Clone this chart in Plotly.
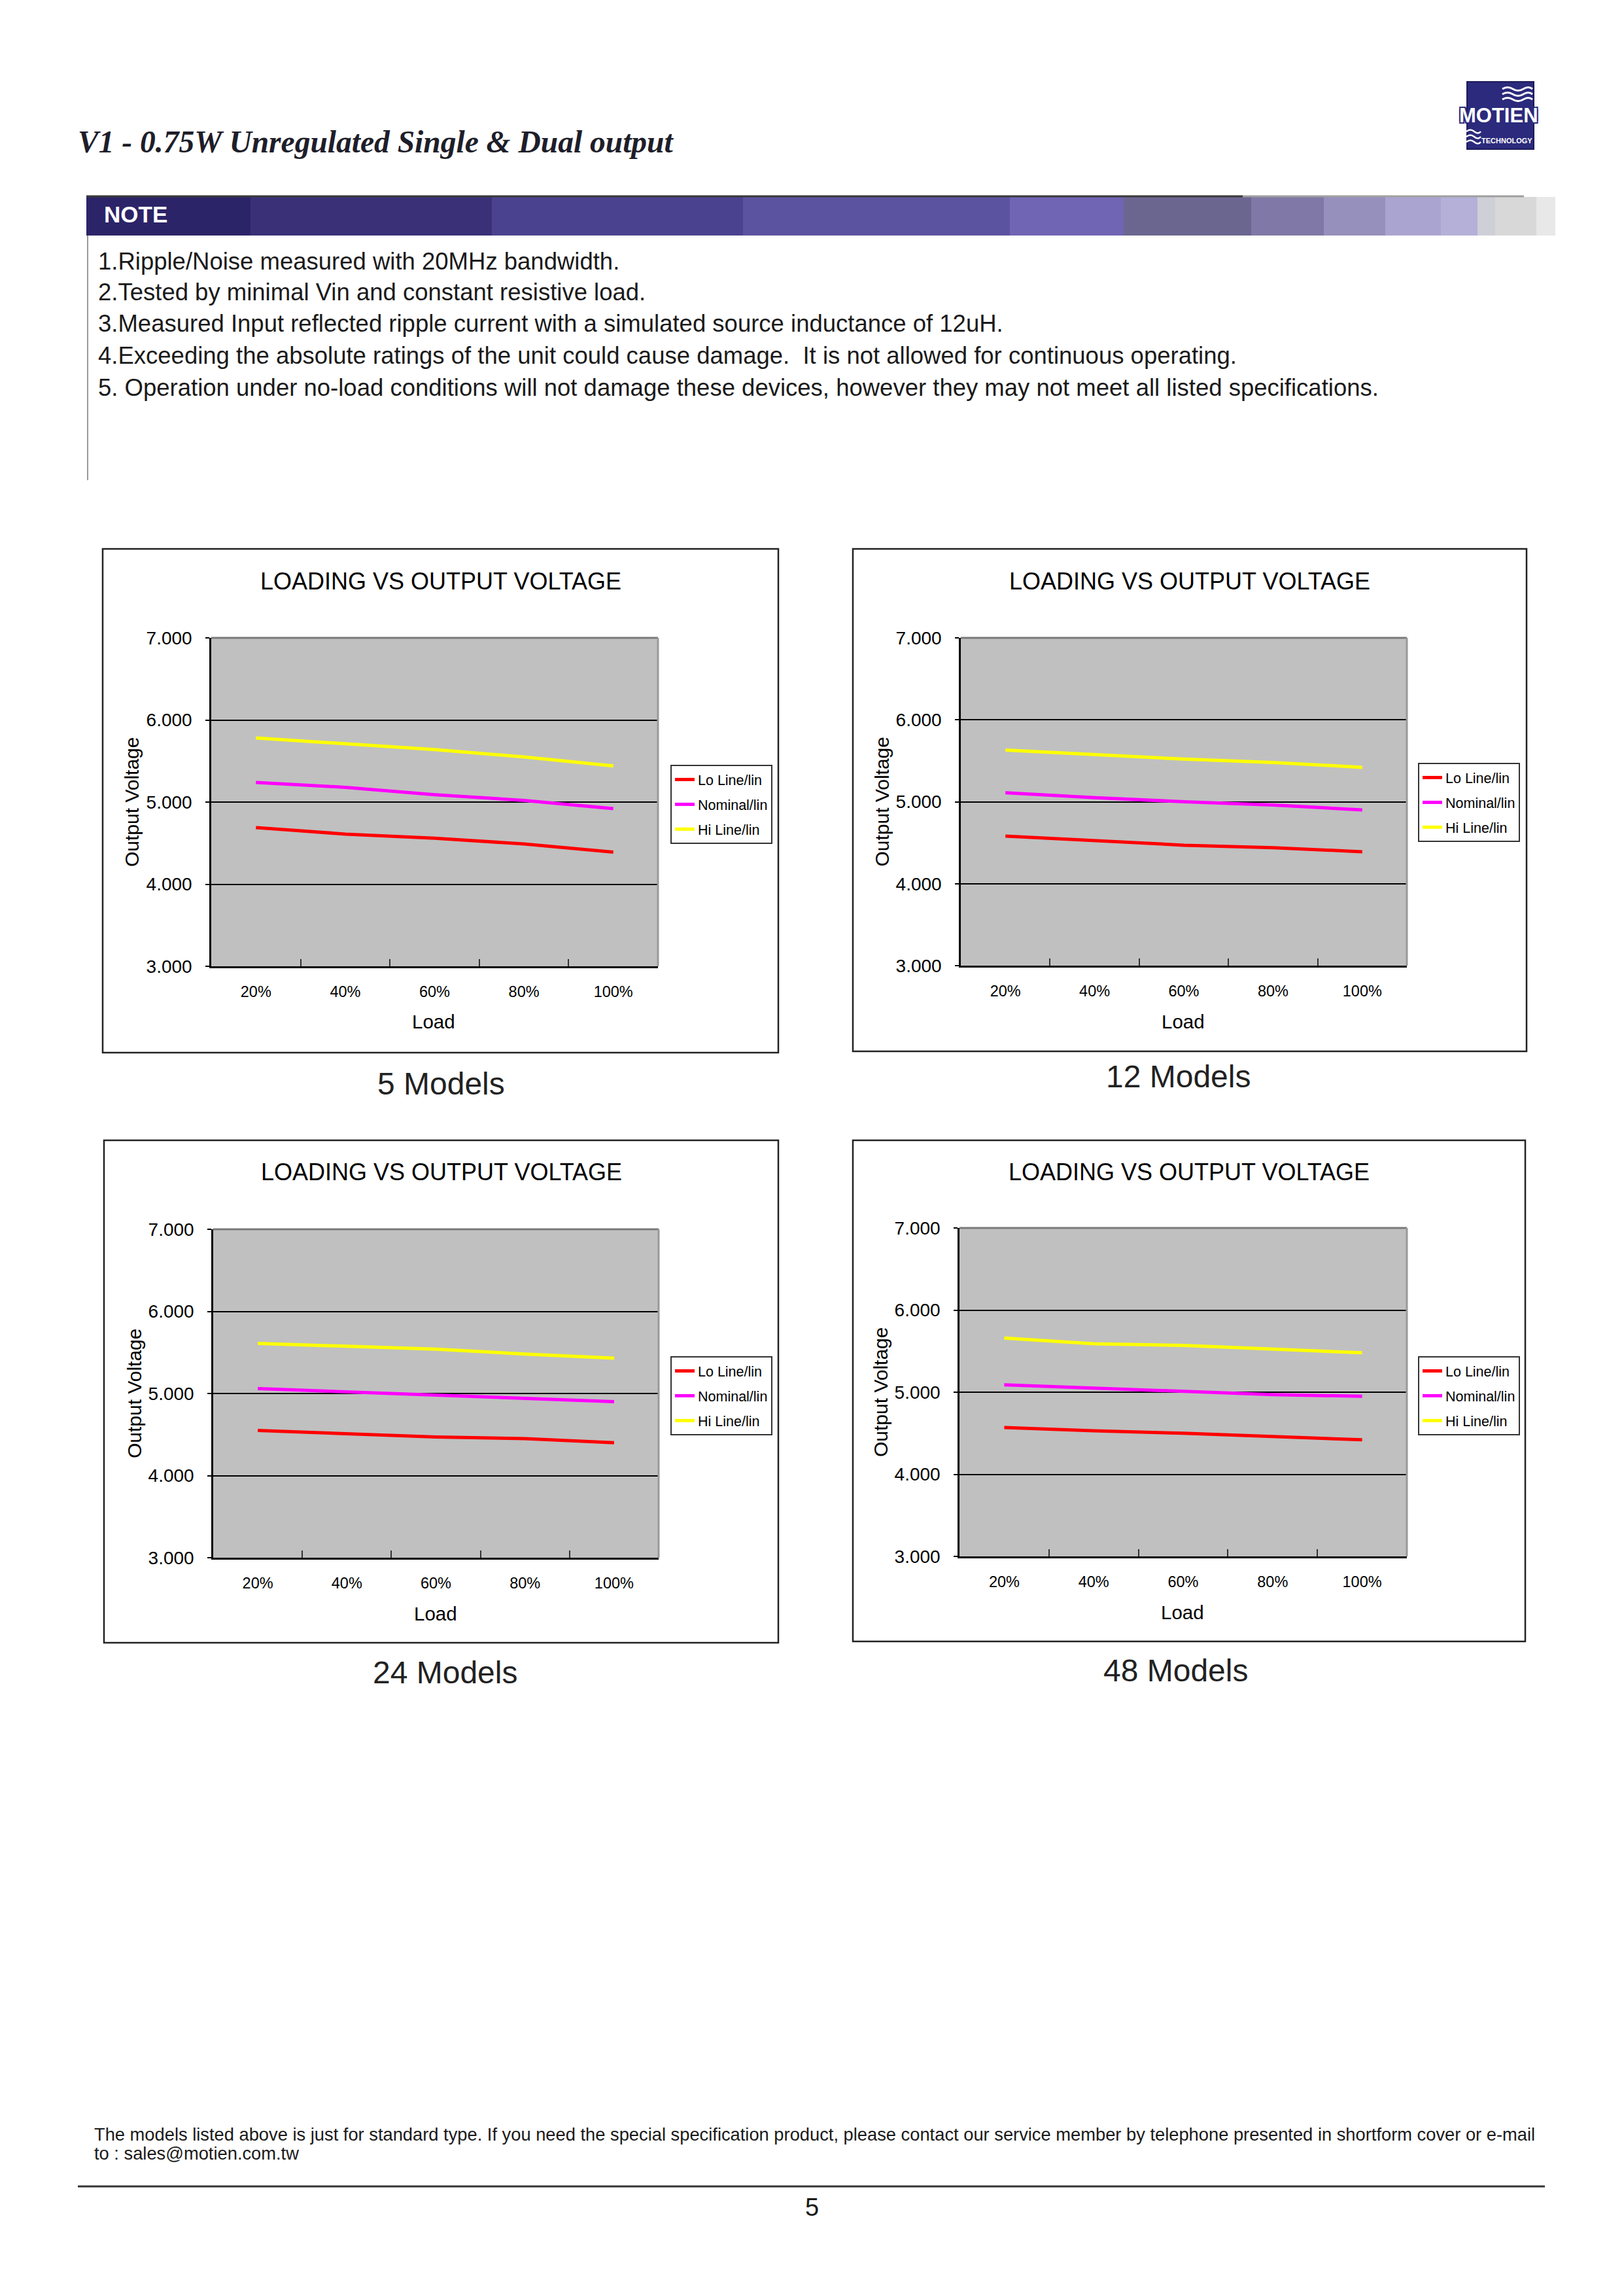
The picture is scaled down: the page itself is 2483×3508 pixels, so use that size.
import plotly.graph_objects as go

W, H = 2483, 3508

# ---------------- data ----------------
loads = ["20%", "40%", "60%", "80%", "100%"]
series_names = ["Lo Line/lin", "Nominal/lin", "Hi Line/lin"]
series_colors = ["#FF0000", "#FF00FF", "#FFFF00"]

lo_5 = [4.69, 4.61, 4.56, 4.49, 4.39]
nom_5 = [5.24, 5.18, 5.09, 5.02, 4.92]
hi_5 = [5.78, 5.71, 5.64, 5.55, 5.44]

lo_12 = [4.58, 4.52, 4.47, 4.44, 4.39]
nom_12 = [5.11, 5.05, 5.00, 4.96, 4.90]
hi_12 = [5.63, 5.58, 5.52, 5.48, 5.42]

lo_24 = [4.55, 4.51, 4.47, 4.45, 4.40]
nom_24 = [5.06, 5.02, 4.98, 4.94, 4.90]
hi_24 = [5.61, 5.57, 5.54, 5.48, 5.43]

lo_48 = [4.57, 4.53, 4.50, 4.46, 4.42]
nom_48 = [5.09, 5.05, 5.01, 4.97, 4.95]
hi_48 = [5.66, 5.59, 5.57, 5.53, 5.48]

model_captions = ["5 Models", "12 Models", "24 Models", "48 Models"]
y_tick_vals = [3, 4, 5, 6, 7]
y_tick_text = ["3.000", "4.000", "5.000", "6.000", "7.000"]

note_lines = [
    "1.Ripple/Noise measured with 20MHz bandwidth.",
    "2.Tested by minimal Vin and constant resistive load.",
    "3.Measured Input reflected ripple current with a simulated source inductance of 12uH.",
    "4.Exceeding the absolute ratings of the unit could cause damage.  It is not allowed for continuous operating.",
    "5. Operation under no-load conditions will not damage these devices, however they may not meet all listed specifications.",
]
footer_lines = [
    "The models listed above is just for standard type. If you need the special specification product, please contact our service member by telephone presented in shortform cover or e-mail",
    "to : sales@motien.com.tw",
]

FONT = "Liberation Sans, Arial, sans-serif"


def px(x):
    return x / W


def py(y):
    return 1 - y / H


# ---------------- layout geometry (pixels) ----------------
charts = [
    dict(data=[lo_5, nom_5, hi_5], box=(157, 839, 1190, 1609), plot=(323, 975, 1006, 1477),
         legend=(1025, 1169), title_y=888, cap=(674, 1656)),
    dict(data=[lo_12, nom_12, hi_12], box=(1304, 839, 2334, 1607), plot=(1469, 975, 2151, 1476),
         legend=(2168, 1166), title_y=888, cap=(1801, 1645)),
    dict(data=[lo_24, nom_24, hi_24], box=(159, 1743, 1190, 2511), plot=(326, 1879, 1007, 2381),
         legend=(1025, 2073), title_y=1791, cap=(680, 2556)),
    dict(data=[lo_48, nom_48, hi_48], box=(1304, 1743, 2332, 2509), plot=(1467, 1877, 2151, 2379),
         legend=(2168, 2073), title_y=1791, cap=(1797, 2553)),
]

fig = go.Figure()
shapes = []
annotations = []
layout_extra = {}

for i, ch in enumerate(charts):
    n = "" if i == 0 else str(i + 1)
    xa, ya = "x" + n, "y" + n
    leg = "legend" + n
    for vals, name, col in zip(ch["data"], series_names, series_colors):
        fig.add_trace(go.Scatter(x=loads, y=vals, name=name, mode="lines",
                                 line=dict(color=col, width=5),
                                 xaxis=xa, yaxis=ya, legend=leg,
                                 legendgroup=f"c{i}_{name}", showlegend=True,
                                 hoverinfo="skip"))
    x0, y0, x1, y1 = ch["plot"]
    layout_extra["xaxis" + n] = dict(
        domain=[px(x0), px(x1)], anchor=ya, type="category", categoryarray=loads,
        range=[-0.5, 4.5], showgrid=False, zeroline=False, showline=True, automargin=False,
        linecolor="black", linewidth=3, ticks="inside", tickson="boundaries",
        ticklen=11, tickwidth=2, tickcolor="#333333",
        tickfont=dict(family=FONT, size=23.5, color="black"), ticklabelstandoff=16,
    )
    layout_extra["yaxis" + n] = dict(
        domain=[py(y1), py(y0)], anchor=xa, range=[3, 7], tickvals=y_tick_vals,
        ticktext=y_tick_text, showgrid=True, gridcolor="black", gridwidth=2,
        zeroline=False, showline=True, linecolor="black", linewidth=2.5, automargin=False,
        ticks="outside", ticklen=6, tickwidth=2, tickcolor="black",
        tickfont=dict(family=FONT, size=28, color="black"), ticklabelstandoff=15,
    )
    lx, ly = ch["legend"]
    layout_extra[leg] = dict(
        x=px(lx), y=py(ly), xanchor="left", yanchor="top", xref="paper", yref="paper",
        bgcolor="white", bordercolor="#333333", borderwidth=2,
        font=dict(family=FONT, size=21.5, color="black"), tracegroupgap=7,
        itemwidth=30, traceorder="grouped",
    )
    # chart outer box
    bx0, by0, bx1, by1 = ch["box"]
    shapes.append(dict(type="rect", xref="paper", yref="paper", x0=px(bx0), x1=px(bx1),
                       y0=py(by1), y1=py(by0), line=dict(color="#222222", width=2.5),
                       fillcolor="rgba(0,0,0,0)", layer="below"))
    # plot-area outline (gray top/right)
    shapes.append(dict(type="line", xref=xa + " domain", yref=ya + " domain", x0=0, x1=1,
                       y0=1, y1=1, line=dict(color="#7a7a7a", width=3), layer="above"))
    shapes.append(dict(type="line", xref=xa + " domain", yref=ya + " domain", x0=1, x1=1,
                       y0=0, y1=1, line=dict(color="#9a9a9a", width=3), layer="above"))
    cx = (bx0 + bx1) / 2
    annotations.append(dict(text="LOADING VS OUTPUT VOLTAGE", x=px(cx), y=py(ch["title_y"]),
                            xref="paper", yref="paper", showarrow=False,
                            font=dict(family=FONT, size=36, color="black"),
                            xanchor="center", yanchor="middle"))
    annotations.append(dict(text="Output Voltage", x=px(x0 - 121), y=py((y0 + y1) / 2),
                            xref="paper", yref="paper", showarrow=False, textangle=-90,
                            font=dict(family=FONT, size=30, color="black"),
                            xanchor="center", yanchor="middle"))
    annotations.append(dict(text="Load", x=px((x0 + x1) / 2 - 1), y=py(y1 + 85),
                            xref="paper", yref="paper", showarrow=False,
                            font=dict(family=FONT, size=29.5, color="black"),
                            xanchor="center", yanchor="middle"))
    capx, capy = ch["cap"]
    annotations.append(dict(text=model_captions[i], x=px(capx), y=py(capy),
                            xref="paper", yref="paper", showarrow=False,
                            font=dict(family=FONT, size=48, color="#222222"),
                            xanchor="center", yanchor="middle"))

# ---------------- header ----------------
annotations.append(dict(text="V1 - 0.75W Unregulated Single &amp; Dual output",
                        x=px(117), y=py(217), xref="paper", yref="paper", showarrow=False,
                        xanchor="left", yanchor="middle",
                        font=dict(family="Liberation Serif, serif", size=47.5, color="#1e1e2a",
                                  style="italic", weight="bold")))

# logo
NAVY = "#2b2a7c"
shapes.append(dict(type="rect", xref="paper", yref="paper", x0=px(2243), x1=px(2345),
                   y0=py(228), y1=py(125), fillcolor=NAVY, line=dict(color="#1c1c5a", width=2)))
for k in range(3):
    yy = 136 + k * 8
    shapes.append(dict(type="path", xref="paper", yref="paper",
                       path=(f"M {px(2297)},{py(yy)} Q {px(2305)},{py(yy - 5)} {px(2313)},{py(yy)}"
                             f" T {px(2329)},{py(yy)} T {px(2343)},{py(yy)}"),
                       line=dict(color="white", width=3)))
for k in range(3):
    yy = 201 + k * 8
    shapes.append(dict(type="path", xref="paper", yref="paper",
                       path=f"M {px(2242)},{py(yy)} Q {px(2248)},{py(yy - 5)} {px(2254)},{py(yy)} T {px(2264)},{py(yy)}",
                       line=dict(color="white", width=2.5)))
annotations.append(dict(text="MOTIEN", x=px(2291), y=py(176), xref="paper", yref="paper",
                        showarrow=False, xanchor="center", yanchor="middle",
                        font=dict(family=FONT, size=31, color="white", weight="bold",
                                  shadow=f"-2px -2px 0 {NAVY}, 2px -2px 0 {NAVY}, -2px 2px 0 {NAVY}, 2px 2px 0 {NAVY}")))
annotations.append(dict(text="TECHNOLOGY", x=px(2304), y=py(215), xref="paper", yref="paper",
                        showarrow=False, xanchor="center", yanchor="middle",
                        font=dict(family=FONT, size=11, color="white", weight="bold")))

# NOTE band (gradient segments)
band_edges = [132, 383, 752, 1136, 1544, 1718, 1913, 2024, 2118, 2203, 2259, 2286, 2349, 2378]
band_cols = ["#2c2468", "#3a3078", "#4a428e", "#5c53a0", "#7064b4", "#6b6690", "#8078a6",
             "#9690bc", "#aaa4d0", "#b4b0d8", "#cfcfd8", "#d8d8d8", "#e8e8e8"]
for a, b, c in zip(band_edges[:-1], band_edges[1:], band_cols):
    shapes.append(dict(type="rect", xref="paper", yref="paper", x0=px(a), x1=px(b),
                       y0=py(360), y1=py(301), fillcolor=c, line=dict(width=0), layer="below"))
shapes.append(dict(type="line", xref="paper", yref="paper", x0=px(132), x1=px(1900),
                   y0=py(300), y1=py(300), line=dict(color="#3a3a3a", width=3)))
shapes.append(dict(type="line", xref="paper", yref="paper", x0=px(1900), x1=px(2330),
                   y0=py(300), y1=py(300), line=dict(color="#a0a0a0", width=3)))
annotations.append(dict(text="NOTE", x=px(157), y=py(328), xref="paper", yref="paper",
                        showarrow=False, xanchor="left", yanchor="middle",
                        font=dict(family=FONT, size=35, color="white", weight="bold")))
# left rule of note area
shapes.append(dict(type="line", xref="paper", yref="paper", x0=px(134), x1=px(134),
                   y0=py(734), y1=py(360), line=dict(color="#9a9a9a", width=2)))
note_y = [399, 447, 495, 544, 593]
for t, yy in zip(note_lines, note_y):
    annotations.append(dict(text=t, x=px(148), y=py(yy), xref="paper", yref="paper",
                            showarrow=False, xanchor="left", yanchor="middle",
                            font=dict(family=FONT, size=36.5, color="#1a1a1a")))

# ---------------- footer ----------------
for t, yy in zip(footer_lines, [3262, 3291]):
    annotations.append(dict(text=t, x=px(142), y=py(yy), xref="paper", yref="paper",
                            showarrow=False, xanchor="left", yanchor="middle",
                            font=dict(family=FONT, size=27.3, color="#1a1a1a")))
shapes.append(dict(type="line", xref="paper", yref="paper", x0=px(119), x1=px(2362),
                   y0=py(3342), y1=py(3342), line=dict(color="#333333", width=3)))
annotations.append(dict(text="5", x=px(1241), y=py(3374), xref="paper", yref="paper",
                        showarrow=False, xanchor="center", yanchor="middle",
                        font=dict(family=FONT, size=38, color="#1a1a1a")))

fig.update_layout(
    template="none",
    width=W, height=H, margin=dict(l=0, r=0, t=0, b=0, pad=0, autoexpand=False),
    paper_bgcolor="white", plot_bgcolor="#C0C0C0", hovermode=False,
    shapes=shapes, annotations=annotations, **layout_extra,
)

fig.write_html("out.html", config={"displayModeBar": False},
               post_script="document.body.style.margin='0px';")
